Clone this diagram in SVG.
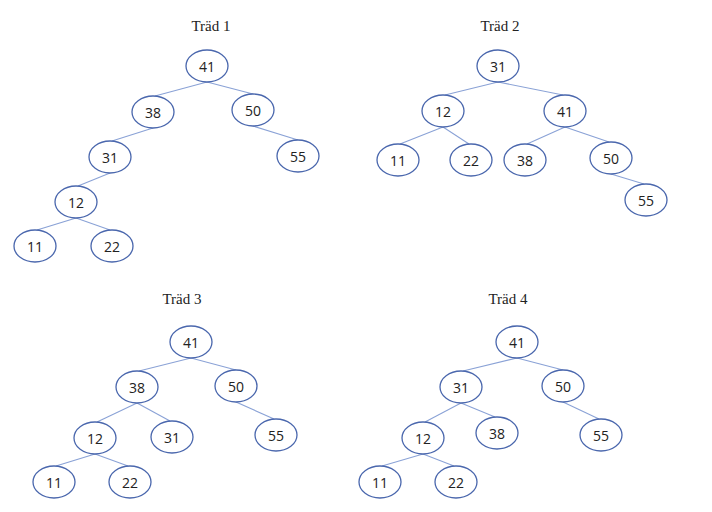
<svg xmlns="http://www.w3.org/2000/svg" width="712" height="512" viewBox="0 0 712 512">
<style>
.n ellipse{fill:#fff;stroke:#4a67ad;stroke-width:1.3}
.n text{font-family:"Open Sans","Liberation Sans",sans-serif;font-size:14px;fill:#222;text-anchor:middle;dominant-baseline:central}
.t{font-family:Georgia,"Liberation Serif",serif;font-size:15px;fill:#222;text-anchor:middle}
#edges line{stroke:#8aa2d6;stroke-width:1.1}
</style>
<rect width="712" height="512" fill="#fff"/>
<text class="t" x="211" y="31">Träd 1</text>
<text class="t" x="500" y="31">Träd 2</text>
<text class="t" x="182" y="304">Träd 3</text>
<text class="t" x="508" y="304">Träd 4</text>
<g id="edges">
<!-- tree1 -->
<line x1="207" y1="82" x2="155" y2="96"/>
<line x1="207" y1="82" x2="253" y2="94"/>
<line x1="153" y1="128" x2="112" y2="141"/>
<line x1="253" y1="126" x2="298" y2="140"/>
<line x1="110" y1="173" x2="78" y2="186"/>
<line x1="76" y1="218" x2="37" y2="230"/>
<line x1="76" y1="218" x2="110" y2="230"/>
<!-- tree2 -->
<line x1="498" y1="82" x2="445" y2="95"/>
<line x1="498" y1="82" x2="563" y2="95"/>
<line x1="443" y1="127" x2="400" y2="144"/>
<line x1="443" y1="127" x2="469" y2="144"/>
<line x1="565" y1="127" x2="527" y2="144"/>
<line x1="565" y1="127" x2="609" y2="142"/>
<line x1="611" y1="174" x2="644" y2="184"/>
<!-- tree3 -->
<line x1="191" y1="358" x2="139" y2="371"/>
<line x1="191" y1="358" x2="236" y2="370"/>
<line x1="137" y1="403" x2="97" y2="422"/>
<line x1="137" y1="403" x2="170" y2="421"/>
<line x1="236" y1="402" x2="274" y2="419"/>
<line x1="95" y1="454" x2="56" y2="466"/>
<line x1="95" y1="454" x2="128" y2="466"/>
<!-- tree4 -->
<line x1="517" y1="358" x2="463" y2="371"/>
<line x1="517" y1="358" x2="563" y2="370"/>
<line x1="461" y1="403" x2="425" y2="422"/>
<line x1="461" y1="403" x2="495" y2="417"/>
<line x1="563" y1="402" x2="599" y2="419"/>
<line x1="423" y1="454" x2="382" y2="466"/>
<line x1="423" y1="454" x2="454" y2="466"/>
</g>
<g id="t1-41" class="n"><ellipse cx="207" cy="66" rx="21" ry="16"/><text x="207" y="66">41</text></g>
<g id="t1-38" class="n"><ellipse cx="153" cy="112" rx="21" ry="16"/><text x="153" y="112">38</text></g>
<g id="t1-50" class="n"><ellipse cx="253" cy="110" rx="21" ry="16"/><text x="253" y="110">50</text></g>
<g id="t1-31" class="n"><ellipse cx="110" cy="157" rx="21" ry="16"/><text x="110" y="157">31</text></g>
<g id="t1-55" class="n"><ellipse cx="298" cy="156" rx="21" ry="16"/><text x="298" y="156">55</text></g>
<g id="t1-12" class="n"><ellipse cx="76" cy="202" rx="21" ry="16"/><text x="76" y="202">12</text></g>
<g id="t1-11" class="n"><ellipse cx="35" cy="246" rx="21" ry="16"/><text x="35" y="246">11</text></g>
<g id="t1-22" class="n"><ellipse cx="112" cy="246" rx="21" ry="16"/><text x="112" y="246">22</text></g>
<g id="t2-31" class="n"><ellipse cx="498" cy="66" rx="21" ry="16"/><text x="498" y="66">31</text></g>
<g id="t2-12" class="n"><ellipse cx="443" cy="111" rx="21" ry="16"/><text x="443" y="111">12</text></g>
<g id="t2-41" class="n"><ellipse cx="565" cy="111" rx="21" ry="16"/><text x="565" y="111">41</text></g>
<g id="t2-11" class="n"><ellipse cx="398" cy="160" rx="21" ry="16"/><text x="398" y="160">11</text></g>
<g id="t2-22" class="n"><ellipse cx="471" cy="160" rx="21" ry="16"/><text x="471" y="160">22</text></g>
<g id="t2-38" class="n"><ellipse cx="525" cy="160" rx="21" ry="16"/><text x="525" y="160">38</text></g>
<g id="t2-50" class="n"><ellipse cx="611" cy="158" rx="21" ry="16"/><text x="611" y="158">50</text></g>
<g id="t2-55" class="n"><ellipse cx="646" cy="200" rx="21" ry="16"/><text x="646" y="200">55</text></g>
<g id="t3-41" class="n"><ellipse cx="191" cy="342" rx="21" ry="16"/><text x="191" y="342">41</text></g>
<g id="t3-38" class="n"><ellipse cx="137" cy="387" rx="21" ry="16"/><text x="137" y="387">38</text></g>
<g id="t3-50" class="n"><ellipse cx="236" cy="386" rx="21" ry="16"/><text x="236" y="386">50</text></g>
<g id="t3-12" class="n"><ellipse cx="95" cy="438" rx="21" ry="16"/><text x="95" y="438">12</text></g>
<g id="t3-31" class="n"><ellipse cx="172" cy="437" rx="21" ry="16"/><text x="172" y="437">31</text></g>
<g id="t3-55" class="n"><ellipse cx="276" cy="435" rx="21" ry="16"/><text x="276" y="435">55</text></g>
<g id="t3-11" class="n"><ellipse cx="54" cy="482" rx="21" ry="16"/><text x="54" y="482">11</text></g>
<g id="t3-22" class="n"><ellipse cx="130" cy="482" rx="21" ry="16"/><text x="130" y="482">22</text></g>
<g id="t4-41" class="n"><ellipse cx="517" cy="342" rx="21" ry="16"/><text x="517" y="342">41</text></g>
<g id="t4-31" class="n"><ellipse cx="461" cy="387" rx="21" ry="16"/><text x="461" y="387">31</text></g>
<g id="t4-50" class="n"><ellipse cx="563" cy="386" rx="21" ry="16"/><text x="563" y="386">50</text></g>
<g id="t4-12" class="n"><ellipse cx="423" cy="438" rx="21" ry="16"/><text x="423" y="438">12</text></g>
<g id="t4-38" class="n"><ellipse cx="497" cy="433" rx="21" ry="16"/><text x="497" y="433">38</text></g>
<g id="t4-55" class="n"><ellipse cx="601" cy="435" rx="21" ry="16"/><text x="601" y="435">55</text></g>
<g id="t4-11" class="n"><ellipse cx="380" cy="482" rx="21" ry="16"/><text x="380" y="482">11</text></g>
<g id="t4-22" class="n"><ellipse cx="456" cy="482" rx="21" ry="16"/><text x="456" y="482">22</text></g>
</svg>
